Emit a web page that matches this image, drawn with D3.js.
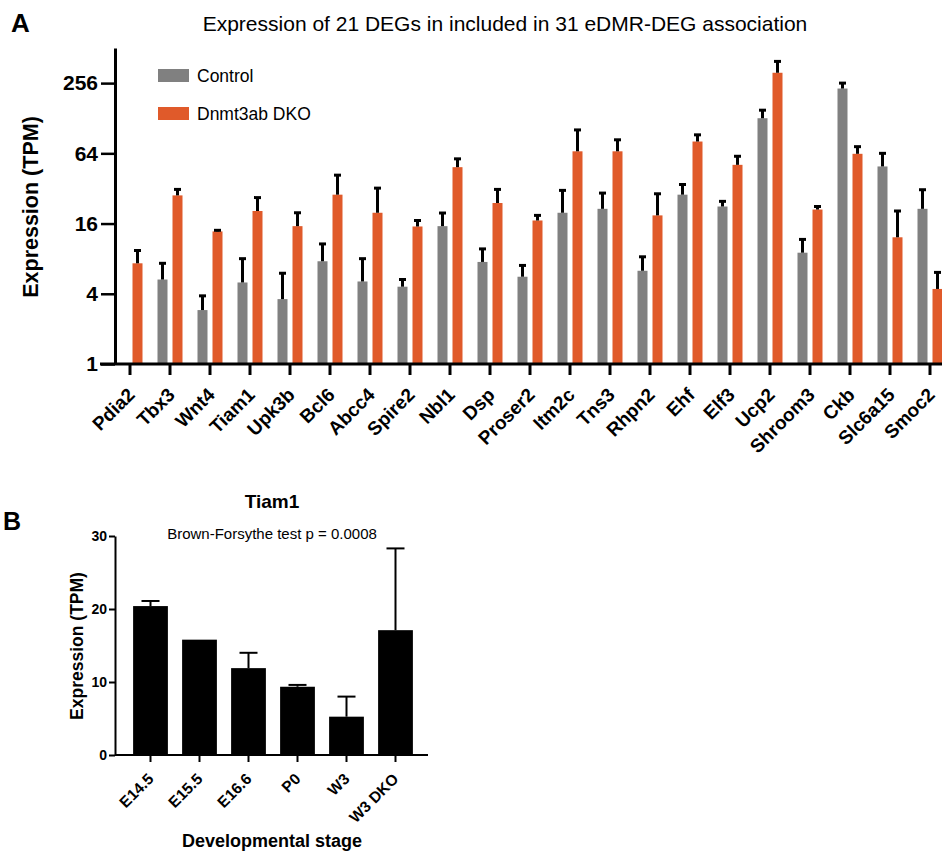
<!DOCTYPE html>
<html>
<head>
<meta charset="utf-8">
<script src="https://cdn.jsdelivr.net/npm/d3@7"></script>
<style>
    body { margin: 0; background: #fff; }
    svg { display: block; font-family: "Liberation Sans", Arial, sans-serif; }
</style>
</head>
<body>
<svg id="chart" width="942" height="852"></svg>
<script>
// panel A data
const genes = ["Pdia2", "Tbx3", "Wnt4", "Tiam1", "Upk3b", "Bcl6", "Abcc4", "Spire2", "Nbl1", "Dsp", "Proser2",
    "Itm2c", "Tns3", "Rhpn2", "Ehf", "Elf3", "Ucp2", "Shroom3", "Ckb", "Slc6a15", "Smoc2"];
const groups = ["Control", "Dnmt3ab DKO"];
const controlMean = [null, 5.3, 2.9, 5.0, 3.6, 7.6, 5.1, 4.6, 15.2, 7.5, 5.6, 19.8, 21.4, 6.3, 28.3, 22.4, 128, 9.0, 230, 49.4, 21.4];
const controlErr = [null, 2.0, 0.94, 3.0, 2.4, 3.1, 2.9, 0.7, 4.5, 2.2, 1.4, 11, 7.8, 2.0, 6.3, 2.4, 22, 2.7, 26, 14.6, 9.8];
const dkoMean = [7.3, 27.9, 13.7, 20.5, 15.2, 28.3, 19.8, 15.1, 48.7, 24.0, 17.0, 66.6, 66.6, 18.8, 80.8, 51.0, 314, 21.1, 63.4, 12.2, 4.4];
const dkoErr = [2.1, 3.5, 0.3, 6.2, 4.6, 13.3, 12.4, 1.9, 8.7, 7.4, 1.8, 35, 17, 10, 11.4, 9.4, 79, 1.3, 9.6, 8.3, 1.7];
const logTicks = [1, 4, 16, 64, 256];

// panel B data
const stages = ["E14.5", "E15.5", "E16.6", "P0", "W3", "W3 DKO"];
const tiam1Mean = [20.4, 15.8, 11.9, 9.35, 5.25, 17.1];
const tiam1Err = [0.7, 0, 2.1, 0.25, 2.75, 11.2];
const linTicks = [0, 10, 20, 30];

const colors = { "Control": "#808080", "Dnmt3ab DKO": "#E05A2A" };

const svg = d3.select("#chart");
svg.append("rect").attr("width", 942).attr("height", 852).attr("fill", "#fff");

drawPanelA();
drawPanelB();

function drawPanelA() {
    const g = svg.append("g");

    const x0 = d3.scaleBand().domain(genes).range([110, 950]);
    const x1 = d3.scaleBand().domain(groups).range([-12.5, 12.5]).paddingInner(1 / 3);
    const y = d3.scaleLog().base(2).domain([1, 512]).range([364, 48]);

    const rows = [];
    genes.forEach((gene, i) => {
        if (controlMean[i] != null) rows.push({ gene: gene, group: "Control", mean: controlMean[i], err: controlErr[i] });
        rows.push({ gene: gene, group: "Dnmt3ab DKO", mean: dkoMean[i], err: dkoErr[i] });
    });

    const cx = d => x0(d.gene) + x0.bandwidth() / 2 + x1(d.group);

    g.selectAll("rect.bar")
        .data(rows)
        .enter().append("rect")
        .attr("class", "bar")
        .attr("x", cx)
        .attr("width", x1.bandwidth())
        .attr("y", d => y(d.mean))
        .attr("height", d => y(1) - y(d.mean))
        .attr("fill", d => colors[d.group]);

    const errs = g.selectAll("g.err").data(rows.filter(d => d.err > 0)).enter().append("g");
    errs.append("line")
        .attr("x1", d => cx(d) + x1.bandwidth() / 2)
        .attr("x2", d => cx(d) + x1.bandwidth() / 2)
        .attr("y1", d => y(d.mean))
        .attr("y2", d => y(d.mean + d.err))
        .attr("stroke", "#000")
        .attr("stroke-width", 3);
    errs.append("line")
        .attr("x1", d => cx(d) + x1.bandwidth() / 2 - 3.5)
        .attr("x2", d => cx(d) + x1.bandwidth() / 2 + 3.5)
        .attr("y1", d => y(d.mean + d.err))
        .attr("y2", d => y(d.mean + d.err))
        .attr("stroke", "#000")
        .attr("stroke-width", 3);

    // y axis
    const yAxis = g.append("g")
        .attr("transform", "translate(115,0)")
        .call(d3.axisLeft(y).tickValues(logTicks).tickFormat(d3.format("d")).tickSize(14).tickPadding(3).tickSizeOuter(0));
    yAxis.select(".domain").attr("stroke-width", 3);
    yAxis.selectAll(".tick line").attr("stroke-width", 2.5);
    yAxis.selectAll(".tick text")
        .attr("font-size", 21)
        .attr("font-weight", "bold")
        .attr("fill", "#000");

    // x axis
    const xAxis = g.append("g")
        .attr("transform", "translate(0,364)")
        .call(d3.axisBottom(x0).tickSize(11).tickSizeOuter(0));
    xAxis.select(".domain").attr("d", "M100,0H950").attr("stroke-width", 3);
    xAxis.selectAll(".tick line").attr("stroke-width", 3);
    xAxis.selectAll(".tick text")
        .attr("font-size", 19)
        .attr("font-weight", "bold")
        .attr("fill", "#000")
        .attr("text-anchor", "end")
        .attr("dy", null)
        .attr("y", null)
        .attr("transform", "translate(6,32) rotate(-45)");

    // legend
    groups.forEach((grp, i) => {
        g.append("rect")
            .attr("x", 158).attr("y", 69 + i * 38)
            .attr("width", 31).attr("height", 13)
            .attr("fill", colors[grp]);
        g.append("text")
            .attr("x", 197).attr("y", 82 + i * 38)
            .attr("font-size", 17.5)
            .text(grp);
    });

    g.append("text")
        .attr("transform", "translate(38,207) rotate(-90)")
        .attr("text-anchor", "middle")
        .attr("font-size", 21.5)
        .attr("font-weight", "bold")
        .text("Expression (TPM)");

    g.append("text")
        .attr("x", 505).attr("y", 31)
        .attr("text-anchor", "middle")
        .attr("font-size", 21)
        .text("Expression of 21 DEGs in included in 31 eDMR-DEG association");

    g.append("text")
        .attr("x", 11).attr("y", 32)
        .attr("font-size", 26)
        .attr("font-weight", "bold")
        .text("A");
}

function drawPanelB() {
    const g = svg.append("g");

    const x = d3.scaleBand().domain(stages).range([126, 420]).paddingInner(0.29).paddingOuter(0.145);
    const y = d3.scaleLinear().domain([0, 30]).range([755, 536]);

    const rows = stages.map((s, i) => ({ stage: s, mean: tiam1Mean[i], err: tiam1Err[i] }));

    g.selectAll("rect.bar")
        .data(rows)
        .enter().append("rect")
        .attr("x", d => x(d.stage))
        .attr("width", x.bandwidth())
        .attr("y", d => y(d.mean))
        .attr("height", d => y(0) - y(d.mean))
        .attr("fill", "#000");

    const errs = g.selectAll("g.err").data(rows.filter(d => d.err > 0)).enter().append("g");
    errs.append("line")
        .attr("x1", d => x(d.stage) + x.bandwidth() / 2)
        .attr("x2", d => x(d.stage) + x.bandwidth() / 2)
        .attr("y1", d => y(d.mean))
        .attr("y2", d => y(d.mean + d.err))
        .attr("stroke", "#000")
        .attr("stroke-width", 2);
    errs.append("line")
        .attr("x1", d => x(d.stage) + x.bandwidth() / 2 - 9)
        .attr("x2", d => x(d.stage) + x.bandwidth() / 2 + 9)
        .attr("y1", d => y(d.mean + d.err))
        .attr("y2", d => y(d.mean + d.err))
        .attr("stroke", "#000")
        .attr("stroke-width", 2);

    const yAxis = g.append("g")
        .attr("transform", "translate(115,0)")
        .call(d3.axisLeft(y).tickValues(linTicks).tickSize(6).tickPadding(2).tickSizeOuter(0));
    yAxis.select(".domain").attr("stroke-width", 2);
    yAxis.selectAll(".tick line").attr("stroke-width", 2);
    yAxis.selectAll(".tick text")
        .attr("font-size", 14)
        .attr("font-weight", "bold")
        .attr("fill", "#000");

    const xAxis = g.append("g")
        .attr("transform", "translate(0,755)")
        .call(d3.axisBottom(x).tickSize(7).tickSizeOuter(0));
    xAxis.select(".domain").attr("d", "M115,0H428").attr("stroke-width", 2);
    xAxis.selectAll(".tick line").attr("stroke-width", 2);
    xAxis.selectAll(".tick text")
        .attr("font-size", 15.5)
        .attr("font-weight", "bold")
        .attr("fill", "#000")
        .attr("text-anchor", "end")
        .attr("dy", null)
        .attr("y", null)
        .attr("transform", "translate(4,25) rotate(-45)");

    g.append("text")
        .attr("transform", "translate(83,646) rotate(-90)")
        .attr("text-anchor", "middle")
        .attr("font-size", 17.5)
        .attr("font-weight", "bold")
        .text("Expression (TPM)");

    g.append("text")
        .attr("x", 272).attr("y", 847)
        .attr("text-anchor", "middle")
        .attr("font-size", 18)
        .attr("font-weight", "bold")
        .text("Developmental stage");

    g.append("text")
        .attr("x", 272).attr("y", 508)
        .attr("text-anchor", "middle")
        .attr("font-size", 19)
        .attr("font-weight", "bold")
        .text("Tiam1");

    g.append("text")
        .attr("x", 272).attr("y", 539)
        .attr("text-anchor", "middle")
        .attr("font-size", 15)
        .text("Brown-Forsythe test p = 0.0008");

    g.append("text")
        .attr("x", 3).attr("y", 530)
        .attr("font-size", 25)
        .attr("font-weight", "bold")
        .text("B");
}
</script>
</body>
</html>
